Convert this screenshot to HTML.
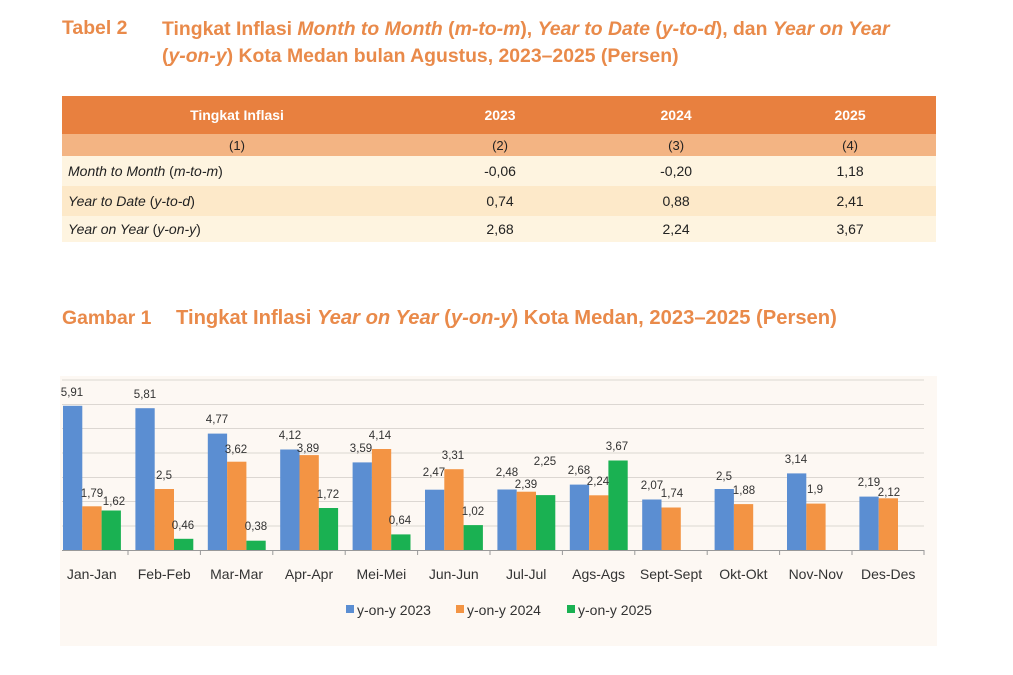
<!DOCTYPE html>
<html><head><meta charset="utf-8"><style>
body{margin:0;background:#fff;width:1013px;height:675px;overflow:hidden;font-family:"Liberation Sans",sans-serif;position:relative}
.t{position:absolute;color:#e98a4a;font-size:19.4px;font-weight:bold}
.t i{font-style:italic}
table{position:absolute;left:62px;top:96px;width:874px;border-collapse:collapse;font-size:14px;color:#222}
td{padding:0;text-align:center}
</style></head><body>
<div class="t" style="left:62px;top:17px">Tabel 2</div>
<div class="t" style="left:162px;top:16px;line-height:27px">Tingkat Inflasi <i>Month to Month</i> (<i>m-to-m</i>), <i>Year to Date</i> (<i>y-to-d</i>), dan <i>Year on Year</i><br>(<i>y-on-y</i>) Kota Medan bulan Agustus, 2023–2025 (Persen)</div>
<table>
<tr style="background:#e8803f;color:#fff;font-weight:bold;height:38px"><td style="width:350px">Tingkat Inflasi</td><td>2023</td><td>2024</td><td>2025</td></tr>
<tr style="background:#f3b483;height:22px;font-size:13px"><td>(1)</td><td>(2)</td><td>(3)</td><td>(4)</td></tr>
<tr style="background:#fef4e0;height:30px"><td style="text-align:left;padding-left:6px"><i>Month to Month</i> (<i>m-to-m</i>)</td><td>-0,06</td><td>-0,20</td><td>1,18</td></tr>
<tr style="background:#fde9c9;height:30px"><td style="text-align:left;padding-left:6px"><i>Year to Date</i> (<i>y-to-d</i>)</td><td>0,74</td><td>0,88</td><td>2,41</td></tr>
<tr style="background:#fef4e0;height:26px"><td style="text-align:left;padding-left:6px"><i>Year on Year</i> (<i>y-on-y</i>)</td><td>2,68</td><td>2,24</td><td>3,67</td></tr>
</table>
<div class="t" style="left:62px;top:307px">Gambar 1</div>
<div class="t" style="left:176px;top:307px;font-size:20.2px">Tingkat Inflasi <i>Year on Year</i> (<i>y-on-y</i>) Kota Medan, 2023–2025 (Persen)</div>
<svg style="position:absolute;left:0;top:0" width="1013" height="675" font-family="Liberation Sans, sans-serif">
<rect x="60" y="376" width="877" height="270" fill="#fdf8f3"/>
<g stroke="#dcd7d2" stroke-width="1">
<line x1="62" x2="924" y1="380" y2="380"/><line x1="62" x2="924" y1="404.5" y2="404.5"/><line x1="62" x2="924" y1="428.5" y2="428.5"/><line x1="62" x2="924" y1="453" y2="453"/><line x1="62" x2="924" y1="477.5" y2="477.5"/><line x1="62" x2="924" y1="501.5" y2="501.5"/><line x1="62" x2="924" y1="526" y2="526"/>
</g>
<g fill="#5b8ed2">
<rect x="63" y="405.8" width="19.3" height="144.2"/><rect x="135.4" y="408.2" width="19.3" height="141.8"/><rect x="207.8" y="433.6" width="19.3" height="116.4"/><rect x="280.2" y="449.5" width="19.3" height="100.5"/><rect x="352.6" y="462.4" width="19.3" height="87.6"/><rect x="425" y="489.7" width="19.3" height="60.3"/><rect x="497.4" y="489.5" width="19.3" height="60.5"/><rect x="569.8" y="484.6" width="19.3" height="65.4"/><rect x="642.2" y="499.5" width="19.3" height="50.5"/><rect x="714.6" y="489" width="19.3" height="61"/><rect x="787" y="473.4" width="19.3" height="76.6"/><rect x="859.4" y="496.6" width="19.3" height="53.4"/>
</g>
<g fill="#f39444">
<rect x="82.3" y="506.3" width="19.3" height="43.7"/><rect x="154.7" y="489" width="19.3" height="61"/><rect x="227.1" y="461.7" width="19.3" height="88.3"/><rect x="299.5" y="455.1" width="19.3" height="94.9"/><rect x="371.9" y="449" width="19.3" height="101"/><rect x="444.3" y="469.2" width="19.3" height="80.8"/><rect x="516.7" y="491.7" width="19.3" height="58.3"/><rect x="589.1" y="495.3" width="19.3" height="54.7"/><rect x="661.5" y="507.5" width="19.3" height="42.5"/><rect x="733.9" y="504.1" width="19.3" height="45.9"/><rect x="806.3" y="503.6" width="19.3" height="46.4"/><rect x="878.7" y="498.3" width="19.3" height="51.7"/>
</g>
<g fill="#1ab152">
<rect x="101.6" y="510.5" width="19.3" height="39.5"/><rect x="174" y="538.8" width="19.3" height="11.2"/><rect x="246.4" y="540.7" width="19.3" height="9.3"/><rect x="318.8" y="508" width="19.3" height="42"/><rect x="391.2" y="534.4" width="19.3" height="15.6"/><rect x="463.6" y="525.1" width="19.3" height="24.9"/><rect x="536" y="495.1" width="19.3" height="54.9"/><rect x="608.4" y="460.5" width="19.3" height="89.5"/>
</g>
<line x1="62" x2="924" y1="550.5" y2="550.5" stroke="#999"/>
<g stroke="#999"><line x1="128" x2="128" y1="550" y2="555"/><line x1="200.4" x2="200.4" y1="550" y2="555"/><line x1="272.8" x2="272.8" y1="550" y2="555"/><line x1="345.2" x2="345.2" y1="550" y2="555"/><line x1="417.6" x2="417.6" y1="550" y2="555"/><line x1="490" x2="490" y1="550" y2="555"/><line x1="562.4" x2="562.4" y1="550" y2="555"/><line x1="634.8" x2="634.8" y1="550" y2="555"/><line x1="707.2" x2="707.2" y1="550" y2="555"/><line x1="779.6" x2="779.6" y1="550" y2="555"/><line x1="852" x2="852" y1="550" y2="555"/><line x1="924" x2="924" y1="550" y2="555"/></g>
<g font-size="11.5" fill="#333" text-anchor="middle">
<text x="72" y="396">5,91</text><text x="92" y="497">1,79</text><text x="114" y="505">1,62</text>
<text x="145" y="398">5,81</text><text x="164" y="479">2,5</text><text x="183" y="529">0,46</text>
<text x="217" y="423">4,77</text><text x="236" y="453">3,62</text><text x="256" y="530">0,38</text>
<text x="290" y="439">4,12</text><text x="308" y="452">3,89</text><text x="328" y="498">1,72</text>
<text x="361" y="452">3,59</text><text x="380" y="439">4,14</text><text x="400" y="524">0,64</text>
<text x="434" y="476">2,47</text><text x="453" y="459">3,31</text><text x="473" y="515">1,02</text>
<text x="507" y="476">2,48</text><text x="526" y="488">2,39</text><text x="545" y="465">2,25</text>
<text x="579" y="474">2,68</text><text x="598" y="485">2,24</text><text x="617" y="450">3,67</text>
<text x="652" y="489">2,07</text><text x="672" y="497">1,74</text>
<text x="724" y="480">2,5</text><text x="744" y="494">1,88</text>
<text x="796" y="463">3,14</text><text x="815" y="493">1,9</text>
<text x="869" y="486">2,19</text><text x="889" y="496">2,12</text>
</g>
<g font-size="14" fill="#333" text-anchor="middle">
<text x="91.8" y="579">Jan-Jan</text><text x="164.2" y="579">Feb-Feb</text><text x="236.6" y="579">Mar-Mar</text><text x="309" y="579">Apr-Apr</text><text x="381.4" y="579">Mei-Mei</text><text x="453.8" y="579">Jun-Jun</text><text x="526.2" y="579">Jul-Jul</text><text x="598.6" y="579">Ags-Ags</text><text x="671" y="579">Sept-Sept</text><text x="743.4" y="579">Okt-Okt</text><text x="815.8" y="579">Nov-Nov</text><text x="888.2" y="579">Des-Des</text>
</g>
<rect x="346" y="605" width="8" height="8" fill="#5b8ed2"/><text x="357" y="615" font-size="14" fill="#333">y-on-y 2023</text>
<rect x="456" y="605" width="8" height="8" fill="#f39444"/><text x="467" y="615" font-size="14" fill="#333">y-on-y 2024</text>
<rect x="567" y="605" width="8" height="8" fill="#1ab152"/><text x="578" y="615" font-size="14" fill="#333">y-on-y 2025</text>
</svg>
</body></html>
